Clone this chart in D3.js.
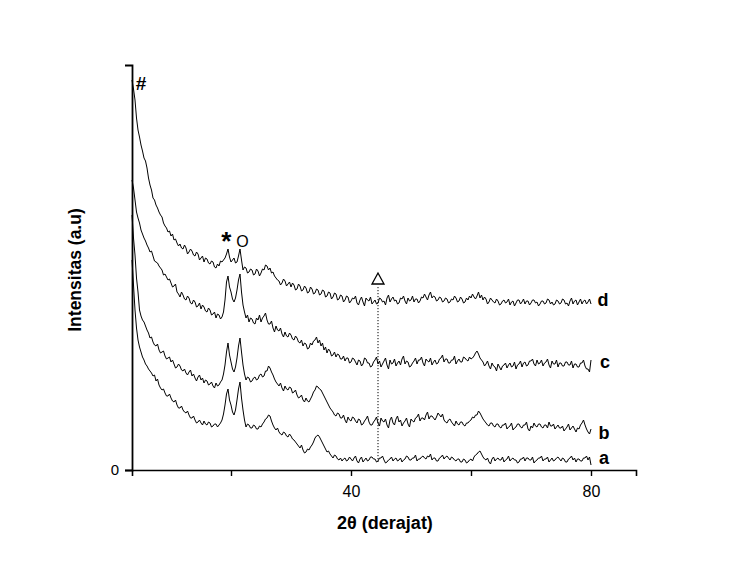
<!DOCTYPE html>
<html>
<head>
<meta charset="utf-8">
<script src="https://cdn.jsdelivr.net/npm/d3@7"></script>
<style>
  html, body { margin: 0; padding: 0; background: #fff; }
  svg { display: block; font-family: "Liberation Sans", Arial, sans-serif; }
</style>
</head>
<body>
<svg id="chart" width="738" height="565"></svg>
<script>
// ---- data (2θ from 3.5° to 80° in 0.25° steps, intensities in a.u.) ----
const thetaStart = 3.5;
const thetaStep = 0.25;

const seriesD = [
390,381,370,352,340,333,325,319,312,309,302,292,285,280,272,270,265,262,258,255,
253,247,244,242,238,239,234,236,230,231,227,224,226,222,221,225,222,216,218,221,
219,215,214,218,216,210,212,214,208,212,211,207,206,209,208,203,202,206,204,209,
208,210,212,216,221,213,208,210,212,207,208,214,221,210,200,203,202,197,198,201,
200,195,196,201,199,194,197,201,200,205,204,200,202,197,198,194,192,190,189,185,
187,191,189,184,186,188,183,187,185,180,181,186,184,179,180,184,182,177,178,183,
181,176,177,181,180,175,176,180,179,173,174,178,177,171,173,177,176,170,171,175,
174,168,170,174,173,167,169,172,
171,174,167,165,170,173,168,164,172,170,169,173,166,168,170,166,167,172,171,168,
169,165,172,175,168,171,173,169,170,166,167,172,171,174,169,166,172,169,170,174,
168,171,171,167,169,173,172,176,173,170,175,178,172,174,173,169,170,173,172,168,
169,172,171,167,168,171,170,174,172,168,169,173,171,167,168,172,170,174,172,176,
173,171,174,178,172,175,170,173,171,166,168,172,170,168,167,171,169,165,166,169,
170,167,168,171,165,168,169,164,167,170,170,166,168,171,166,169,169,165,167,170,
170,167,168,164,166,169,169,166,167,171,170,166,168,165,166,170,169,166,167,171,
170,166,167,164,169,172,166,169,170,165,168,171,166,169,170,166,168,171,166];

const seriesC = [
290,282,270,258,252,247,240,236,232,229,225,222,218,219,214,209,208,207,204,202,
200,195,196,193,190,191,187,183,184,186,178,176,173,178,175,171,170,174,172,167,
166,170,168,163,164,167,161,165,163,159,158,162,160,155,156,158,152,156,155,151,
153,158,170,188,194,183,178,171,168,172,180,190,196,178,165,158,152,155,148,152,
151,147,146,152,150,155,148,152,154,157,150,146,146,149,142,138,144,140,139,142,
136,133,138,134,133,137,135,131,130,134,132,128,127,130,124,127,126,121,122,127,
125,129,130,133,127,130,124,127,120,123,117,121,119,114,115,118,113,116,115,111,
111,114,109,112,112,107,108,112,
111,108,105,110,109,104,106,112,111,107,107,103,104,108,110,113,106,109,103,106,
109,112,105,101,110,106,107,111,104,107,109,105,111,114,106,109,108,103,104,107,
109,112,106,110,110,113,107,104,111,109,108,112,105,108,110,106,107,111,112,115,
108,111,111,107,107,110,110,114,106,109,111,108,108,113,112,110,109,113,111,112,
114,117,119,116,112,110,108,104,106,109,104,101,107,104,103,99,106,103,100,104,
105,107,102,105,107,103,104,108,101,105,106,109,103,107,108,104,105,109,109,111,
106,104,110,106,107,110,104,107,108,111,105,102,109,106,106,110,103,107,107,104,
104,108,108,105,105,109,102,106,106,103,103,107,107,110,104,101,101,98,110];

const seriesB = [
255,232,215,192,178,160,154,150,148,144,140,137,132,133,128,125,124,126,120,117,
118,119,114,111,112,113,108,110,106,102,103,106,104,100,99,101,97,95,98,100,
94,96,92,89,93,95,90,92,87,90,89,85,86,88,84,82,87,84,85,88,
90,96,105,118,127,115,108,101,98,103,112,124,132,118,105,96,90,93,92,88,
89,92,93,90,91,95,96,93,94,99,99,104,102,98,95,91,88,86,84,87,
82,79,84,81,80,83,82,77,78,80,75,72,73,75,70,68,72,69,68,71,
74,78,80,84,83,81,80,77,74,71,68,65,62,60,58,55,54,57,56,52,
52,55,50,47,53,50,49,53,
52,49,47,51,50,45,46,49,51,54,48,45,45,48,50,53,47,44,52,49,
48,51,45,42,50,53,47,45,51,54,48,50,44,47,49,52,46,43,51,49,
48,52,53,56,49,52,52,50,55,58,51,54,54,52,50,53,57,55,53,56,
50,48,47,50,51,48,46,44,49,46,45,48,48,45,44,47,47,49,50,53,
52,55,55,59,57,54,51,49,47,45,44,47,47,44,43,46,46,43,42,45,
45,47,41,43,44,47,40,42,43,46,46,43,42,45,45,48,41,39,44,42,
47,44,43,46,46,43,42,45,45,42,48,44,44,46,41,43,45,42,42,44,
39,41,43,46,40,42,44,41,38,42,41,45,47,50,45,41,38,36,41];

const seriesA = [
210,185,160,142,130,123,118,113,110,106,104,101,99,97,94,95,89,91,85,82,
80,81,77,74,74,76,72,69,68,70,65,62,62,64,60,58,57,59,55,52,
52,54,50,47,48,50,47,45,49,46,45,48,47,43,44,46,46,43,45,47,
50,56,65,76,81,70,65,58,55,60,70,81,88,72,60,50,43,46,45,42,
42,45,44,41,41,44,43,46,48,51,52,55,54,49,45,42,40,42,38,36,
35,38,37,34,33,36,34,31,30,28,26,24,22,25,20,17,18,21,20,23,
25,28,32,34,35,33,30,27,24,21,18,19,16,14,12,15,14,11,10,12,
9,11,12,9,10,13,11,9,
12,14,9,7,11,13,8,10,12,9,10,13,13,11,11,8,9,12,12,14,
10,7,8,10,11,13,9,11,12,9,10,12,8,10,11,14,13,10,10,12,
12,15,9,11,11,13,14,12,11,14,13,16,10,12,12,9,9,12,13,15,
11,13,14,12,10,13,12,10,9,11,11,8,8,11,10,7,8,10,11,9,
13,15,16,18,19,16,13,11,10,12,8,6,11,13,9,11,12,10,10,13,
8,10,11,14,9,11,12,10,10,7,8,11,11,13,9,12,12,10,10,13,
7,9,10,12,12,14,9,11,11,13,8,10,12,9,10,12,13,11,9,12,
11,8,8,11,12,14,10,12,8,11,11,9,9,12,12,14,10,13,5];

const seriesNames = ["a", "b", "c", "d"];
const seriesList = [seriesA, seriesB, seriesC, seriesD];

const xTickValues = [20, 40, 60, 80];
const xTickLabels = ["", "40", "", "80"];
const yTickValues = [0];
const yTickLabels = ["0"];
const markerDelta = 44.5;   // 2θ of dotted reference line (Δ)

// ---- chart ----
const svg = d3.select("#chart");
const x = d3.scaleLinear().domain([3.5, 87.5]).range([132, 636]);
const y = d3.scaleLinear().domain([0, 405]).range([470, 65]);

const line = d3.line()
  .x((d, i) => x(thetaStart + i * thetaStep))
  .y(d => y(d));

// traces
svg.append("g").selectAll("path")
  .data(seriesList)
  .join("path")
  .attr("d", d => line(d))
  .attr("fill", "none")
  .attr("stroke", "#000")
  .attr("stroke-width", 1)
  .attr("stroke-linejoin", "round");

// x axis
const xAxis = svg.append("g")
  .attr("transform", `translate(0,${y(0)})`)
  .call(d3.axisBottom(x).tickValues(xTickValues)
    .tickFormat((d, i) => xTickLabels[i]).tickSizeOuter(0).tickSize(6).tickPadding(10));
xAxis.select(".domain").attr("stroke", "#000").attr("stroke-width", 1.6);
xAxis.selectAll(".tick line").attr("stroke", "#000").attr("stroke-width", 1.4);
xAxis.selectAll(".tick text").attr("font-size", 16).attr("fill", "#000")
  .attr("font-family", "'Liberation Sans', Arial, sans-serif");

// y axis
const yAxis = svg.append("g")
  .attr("transform", `translate(${x(3.5)},0)`)
  .call(d3.axisLeft(y).tickValues(yTickValues)
    .tickFormat((d, i) => yTickLabels[i]).tickSizeOuter(0).tickSize(7).tickPadding(6));
yAxis.select(".domain").attr("stroke", "#000").attr("stroke-width", 1.8);
yAxis.selectAll(".tick line").attr("stroke", "#000").attr("stroke-width", 1.4);
yAxis.selectAll(".tick text").attr("font-size", 15).attr("fill", "#000")
  .attr("font-family", "'Liberation Sans', Arial, sans-serif");

// dotted reference line
svg.append("line")
  .attr("x1", x(markerDelta)).attr("x2", x(markerDelta))
  .attr("y1", y(183)).attr("y2", y(8))
  .attr("stroke", "#000").attr("stroke-width", 1)
  .attr("stroke-dasharray", "1.2,1.8");

// triangle marker
const tx = x(markerDelta), ty = y(197);
svg.append("path")
  .attr("d", `M${tx},${ty} L${tx - 6},${ty + 11} L${tx + 6},${ty + 11} Z`)
  .attr("fill", "none").attr("stroke", "#000").attr("stroke-width", 1.3);

// peak symbols
svg.append("text").attr("x", x(5)).attr("y", y(380)).text("#")
  .attr("font-size", 19).attr("font-weight", "bold").attr("text-anchor", "middle");
svg.append("text").attr("x", x(19.2)).attr("y", y(220)).text("*")
  .attr("font-size", 26).attr("font-weight", "bold").attr("text-anchor", "middle");
svg.append("text").attr("x", x(21.9)).attr("y", y(223)).text("O")
  .attr("font-size", 16).attr("text-anchor", "middle");

// series labels
const labelPos = [[604, 464], [604, 439], [605, 368], [603, 306]];
svg.append("g").selectAll("text")
  .data(seriesNames)
  .join("text")
  .attr("x", (d, i) => labelPos[i][0])
  .attr("y", (d, i) => labelPos[i][1])
  .attr("text-anchor", "middle")
  .attr("font-size", 18).attr("font-weight", "bold")
  .text(d => d);

// axis titles
svg.append("text").attr("x", 385).attr("y", 529)
  .attr("text-anchor", "middle").attr("font-size", 18).attr("font-weight", "bold")
  .text("2θ (derajat)");
svg.append("text")
  .attr("transform", "translate(81,270) rotate(-90)")
  .attr("text-anchor", "middle").attr("font-size", 17.5).attr("font-weight", "bold")
  .text("Intensitas (a.u)");
</script>
</body>
</html>
